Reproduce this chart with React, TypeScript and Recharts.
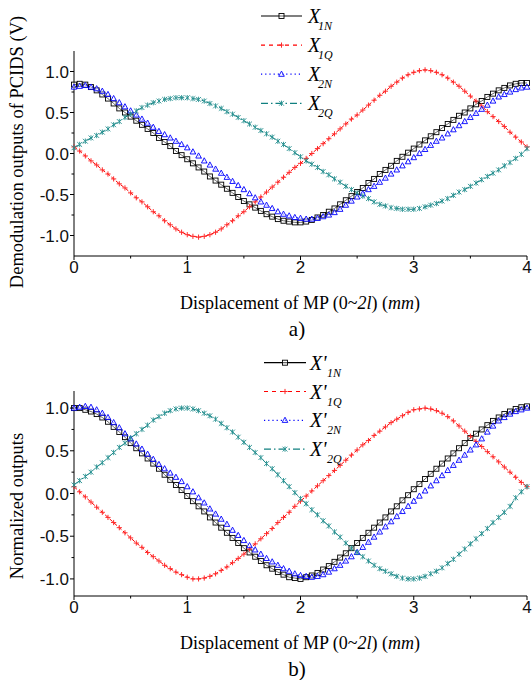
import React from 'react';
import { LineChart, Line, XAxis, YAxis, Legend, Label } from 'recharts';

// x positions (mm), one sample every 0.05
const XS = [
  0, 0.05, 0.1, 0.15, 0.2, 0.25, 0.3, 0.35, 0.4, 0.45, 0.5, 0.55, 0.6, 0.65, 0.7, 0.75, 0.8, 0.85, 0.9, 0.95,
  1, 1.05, 1.1, 1.15, 1.2, 1.25, 1.3, 1.35, 1.4, 1.45, 1.5, 1.55, 1.6, 1.65, 1.7, 1.75, 1.8, 1.85, 1.9, 1.95,
  2, 2.05, 2.1, 2.15, 2.2, 2.25, 2.3, 2.35, 2.4, 2.45, 2.5, 2.55, 2.6, 2.65, 2.7, 2.75, 2.8, 2.85, 2.9, 2.95,
  3, 3.05, 3.1, 3.15, 3.2, 3.25, 3.3, 3.35, 3.4, 3.45, 3.5, 3.55, 3.6, 3.65, 3.7, 3.75, 3.8, 3.85, 3.9, 3.95,
  4,
];

// a) demodulation outputs (V)
const A_X1N = [
  0.84, 0.85, 0.84, 0.81, 0.77, 0.72, 0.67, 0.61, 0.55, 0.5, 0.45, 0.4, 0.35, 0.3, 0.25, 0.19, 0.14, 0.09, 0.03, -0.02,
  -0.07, -0.12, -0.17, -0.22, -0.28, -0.33, -0.38, -0.43, -0.48, -0.53, -0.58, -0.62, -0.66, -0.7, -0.74, -0.77, -0.8, -0.82, -0.83, -0.84,
  -0.84, -0.83, -0.81, -0.78, -0.75, -0.71, -0.67, -0.62, -0.57, -0.52, -0.47, -0.42, -0.36, -0.31, -0.25, -0.2, -0.15, -0.09, -0.04, 0.01,
  0.06, 0.11, 0.16, 0.21, 0.26, 0.31, 0.36, 0.41, 0.46, 0.5, 0.55, 0.6, 0.64, 0.69, 0.73, 0.77, 0.8, 0.83, 0.85, 0.86,
  0.86,
];
const A_X1Q = [
  0.08, 0.03, -0.03, -0.09, -0.14, -0.2, -0.25, -0.31, -0.37, -0.42, -0.48, -0.54, -0.59, -0.65, -0.71, -0.76, -0.82, -0.87, -0.92, -0.96,
  -0.99, -1.01, -1.02, -1.01, -0.99, -0.96, -0.92, -0.87, -0.82, -0.76, -0.71, -0.65, -0.59, -0.53, -0.47, -0.41, -0.35, -0.29, -0.23, -0.17,
  -0.12, -0.06, 0.0, 0.06, 0.12, 0.18, 0.24, 0.3, 0.36, 0.42, 0.47, 0.53, 0.59, 0.65, 0.71, 0.76, 0.82, 0.87, 0.92, 0.96,
  0.99, 1.01, 1.02, 1.01, 0.99, 0.96, 0.92, 0.87, 0.82, 0.76, 0.7, 0.64, 0.58, 0.51, 0.45, 0.39, 0.33, 0.26, 0.2, 0.14,
  0.08,
];
const A_X2N = [
  0.81, 0.82, 0.83, 0.81, 0.79, 0.76, 0.72, 0.67, 0.62, 0.57, 0.52, 0.47, 0.42, 0.37, 0.32, 0.27, 0.23, 0.19, 0.15, 0.11,
  0.07, 0.02, -0.03, -0.09, -0.14, -0.19, -0.24, -0.29, -0.34, -0.39, -0.44, -0.49, -0.54, -0.59, -0.63, -0.67, -0.71, -0.74, -0.76, -0.78,
  -0.79, -0.8, -0.8, -0.79, -0.77, -0.75, -0.72, -0.68, -0.63, -0.58, -0.53, -0.49, -0.44, -0.4, -0.35, -0.3, -0.25, -0.2, -0.15, -0.1,
  -0.05, 0.0, 0.05, 0.1, 0.15, 0.19, 0.24, 0.29, 0.34, 0.39, 0.44, 0.49, 0.54, 0.59, 0.64, 0.69, 0.72, 0.75, 0.78, 0.8,
  0.81,
];
const A_X2Q = [
  0.07, 0.11, 0.15, 0.19, 0.22, 0.26, 0.3, 0.35, 0.39, 0.44, 0.48, 0.52, 0.56, 0.59, 0.62, 0.64, 0.66, 0.67, 0.68, 0.68,
  0.68, 0.67, 0.66, 0.64, 0.61, 0.58, 0.55, 0.51, 0.48, 0.44, 0.4, 0.36, 0.32, 0.28, 0.24, 0.2, 0.15, 0.11, 0.06, 0.01,
  -0.04, -0.09, -0.13, -0.17, -0.22, -0.26, -0.31, -0.35, -0.4, -0.44, -0.48, -0.52, -0.55, -0.59, -0.62, -0.64, -0.66, -0.67, -0.68, -0.68,
  -0.68, -0.67, -0.65, -0.63, -0.61, -0.58, -0.55, -0.51, -0.47, -0.44, -0.4, -0.36, -0.32, -0.28, -0.24, -0.2, -0.15, -0.11, -0.06, -0.01,
  0.06,
];

// b) normalized outputs
const B_X1N = [
  1.0, 1.0, 0.98, 0.96, 0.93, 0.89, 0.84, 0.78, 0.72, 0.66, 0.59, 0.53, 0.47, 0.41, 0.35, 0.29, 0.22, 0.16, 0.1, 0.04,
  -0.03, -0.09, -0.15, -0.21, -0.28, -0.34, -0.4, -0.46, -0.52, -0.58, -0.64, -0.69, -0.74, -0.79, -0.84, -0.88, -0.92, -0.95, -0.98, -0.99,
  -1.0, -0.98, -0.96, -0.93, -0.89, -0.85, -0.8, -0.75, -0.7, -0.64, -0.58, -0.52, -0.46, -0.4, -0.34, -0.28, -0.21, -0.15, -0.08, -0.02,
  0.05, 0.11, 0.17, 0.23, 0.29, 0.35, 0.41, 0.47, 0.53, 0.59, 0.65, 0.7, 0.75, 0.8, 0.85, 0.89, 0.93, 0.96, 0.99, 1.01,
  1.02,
];
const B_X1Q = [
  0.08, 0.02, -0.04, -0.1, -0.16, -0.22, -0.28, -0.34, -0.4, -0.46, -0.52, -0.58, -0.63, -0.69, -0.74, -0.79, -0.84, -0.88, -0.92, -0.95,
  -0.98, -1.0, -1.0, -0.99, -0.97, -0.94, -0.9, -0.86, -0.81, -0.76, -0.71, -0.65, -0.59, -0.53, -0.47, -0.41, -0.34, -0.28, -0.22, -0.15,
  -0.09, -0.03, 0.03, 0.09, 0.15, 0.21, 0.27, 0.33, 0.39, 0.45, 0.51, 0.57, 0.62, 0.68, 0.73, 0.78, 0.83, 0.87, 0.91, 0.95,
  0.98, 0.99, 1.0, 0.99, 0.97, 0.94, 0.9, 0.85, 0.79, 0.73, 0.67, 0.61, 0.55, 0.49, 0.43, 0.37, 0.31, 0.25, 0.19, 0.13,
  0.08,
];
const B_X2N = [
  1.0, 1.01, 1.02, 1.01, 0.98, 0.94, 0.89, 0.83, 0.77, 0.7, 0.64, 0.58, 0.52, 0.46, 0.4, 0.34, 0.29, 0.24, 0.19, 0.14,
  0.08, 0.02, -0.05, -0.11, -0.18, -0.24, -0.3, -0.36, -0.43, -0.49, -0.55, -0.61, -0.66, -0.71, -0.76, -0.8, -0.84, -0.88, -0.91, -0.94,
  -0.96, -0.97, -0.98, -0.97, -0.95, -0.92, -0.88, -0.84, -0.79, -0.74, -0.69, -0.63, -0.57, -0.51, -0.45, -0.39, -0.33, -0.27, -0.21, -0.15,
  -0.09, -0.03, 0.03, 0.09, 0.15, 0.21, 0.27, 0.33, 0.39, 0.45, 0.51, 0.57, 0.64, 0.72, 0.79, 0.85, 0.89, 0.93, 0.96, 0.98,
  1.0,
];
const B_X2Q = [
  0.1, 0.15, 0.2, 0.25, 0.31, 0.36, 0.42, 0.48, 0.54, 0.59, 0.65, 0.7, 0.75, 0.8, 0.86, 0.9, 0.94, 0.97, 0.99, 1.0,
  1.0, 0.99, 0.97, 0.94, 0.91, 0.87, 0.82, 0.77, 0.72, 0.66, 0.6, 0.54, 0.48, 0.42, 0.35, 0.29, 0.22, 0.15, 0.08, 0.01,
  -0.06, -0.12, -0.19, -0.25, -0.32, -0.38, -0.45, -0.51, -0.58, -0.64, -0.69, -0.74, -0.79, -0.84, -0.88, -0.91, -0.94, -0.97, -0.99, -1.0,
  -1.0, -0.99, -0.97, -0.94, -0.91, -0.87, -0.82, -0.77, -0.71, -0.65, -0.59, -0.53, -0.47, -0.41, -0.34, -0.28, -0.22, -0.15, -0.05, 0.02,
  0.08,
];

const X_TICKS = [0, 0.5, 1, 1.5, 2, 2.5, 3, 3.5, 4];
const Y_TICKS = [-1, -0.75, -0.5, -0.25, 0, 0.25, 0.5, 0.75, 1];

const SANS = '"Liberation Sans", Arial, sans-serif';
const SERIF = '"Liberation Serif", "Times New Roman", serif';

const BLACK = '#000000';
const RED = '#ff0000';
const BLUE = '#0000ff';
const TEAL = '#108080';

const SquareDot = (p: any) => (
  <rect key={`sq${p.index}`} x={p.cx - 2.5} y={p.cy - 2.5} width={5} height={5}
    fill="#ffffff" fillOpacity={0.4} stroke={BLACK} strokeWidth={0.9} />
);
const PlusDot = (p: any) => (
  <path key={`pl${p.index}`} d={`M${p.cx - 2.6},${p.cy}H${p.cx + 2.6}M${p.cx},${p.cy - 2.6}V${p.cy + 2.6}`}
    stroke="#ff2a2a" strokeWidth={1} fill="none" />
);
const TriDot = (p: any) => (
  <path key={`tr${p.index}`} d={`M${p.cx},${p.cy - 3.1}L${p.cx + 2.8},${p.cy + 2.1}L${p.cx - 2.8},${p.cy + 2.1}Z`}
    stroke={BLUE} strokeWidth={0.9} fill="#ffffff" fillOpacity={0.4} />
);
const StarDot = (p: any) => (
  <path key={`st${p.index}`}
    d={`M${p.cx - 2.4},${p.cy - 2.4}L${p.cx + 2.4},${p.cy + 2.4}M${p.cx - 2.4},${p.cy + 2.4}L${p.cx + 2.4},${p.cy - 2.4}M${p.cx},${p.cy - 2.7}V${p.cy + 2.7}`}
    stroke="#248f8f" strokeWidth={0.9} fill="none" />
);

const XTick = (props: any) => {
  const { x, y, payload } = props;
  const major = Number.isInteger(payload.value);
  return (
    <g>
      <line x1={x} x2={x} y1={y} y2={y + (major ? 4 : 2.5)} stroke={BLACK} strokeWidth={1} />
      {major && (
        <text x={x} y={y + 17} textAnchor="middle" fontSize={17} fontFamily={SANS} fill="#111">
          {payload.value}
        </text>
      )}
    </g>
  );
};

const YTick = (props: any) => {
  const { x, y, payload } = props;
  const v = payload.value;
  const major = Math.abs(v * 2 - Math.round(v * 2)) < 1e-6;
  return (
    <g>
      <line x1={x} x2={x - (major ? 4 : 2.5)} y1={y} y2={y} stroke={BLACK} strokeWidth={1} />
      {major && (
        <text x={x - 5} y={y} dy="0.36em" textAnchor="end" fontSize={17} fontFamily={SANS} fill="#111">
          {v.toFixed(1)}
        </text>
      )}
    </g>
  );
};

type Item = { main: string; sub: string; color: string; dash?: string; marker: string };

const LegendMarker = ({ kind, cx, cy }: { kind: string; cx: number; cy: number }) => {
  if (kind === 'square') return <SquareDot cx={cx} cy={cy} index={0} />;
  if (kind === 'plus') return <PlusDot cx={cx} cy={cy} index={0} />;
  if (kind === 'tri') return <TriDot cx={cx} cy={cy} index={0} />;
  return <StarDot cx={cx} cy={cy} index={0} />;
};

const LegendBox = ({ items, top, gap, x1, x2, tx, sx }: {
  items: Item[]; top: number; gap: number; x1: number; x2: number; tx: number; sx: number;
}) => (
  <svg width={140} height={130} style={{ display: 'block', overflow: 'visible' }}>
    {items.map((it, i) => {
      const y = top + i * gap;
      return (
        <g key={it.sub}>
          <line x1={x1} x2={x2} y1={y} y2={y} stroke={it.color} strokeWidth={1.2} strokeDasharray={it.dash} />
          <LegendMarker kind={it.marker} cx={(x1 + x2) / 2} cy={y} />
          <text x={tx} y={y + 7} fontSize={20} fontStyle="italic" fontFamily={SERIF} fill="#000">{it.main}</text>
          <text x={sx} y={y + 14} fontSize={12} fontStyle="italic" fontFamily={SERIF} fill="#000">{it.sub}</text>
        </g>
      );
    })}
  </svg>
);

const ITEMS_A: Item[] = [
  { main: 'X', sub: '1N', color: BLACK, marker: 'square' },
  { main: 'X', sub: '1Q', color: RED, dash: '4 4', marker: 'plus' },
  { main: 'X', sub: '2N', color: BLUE, dash: '1.2 3', marker: 'tri' },
  { main: 'X', sub: '2Q', color: TEAL, dash: '7 3 1.5 3', marker: 'star' },
];
const ITEMS_B: Item[] = ITEMS_A.map((it) => ({ ...it, main: "X'" }));

const rowsA = XS.map((x, i) => ({ x, n1: A_X1N[i], q1: A_X1Q[i], n2: A_X2N[i], q2: A_X2Q[i] }));
const rowsB = XS.map((x, i) => ({ x, n1: B_X1N[i], q1: B_X1Q[i], n2: B_X2N[i], q2: B_X2Q[i] }));

const Panel = ({ rows, yDomain, yTitle, yTitleY, tag, legend }: {
  rows: any[]; yDomain: number[]; yTitle: string; yTitleY: number; tag: string; legend: React.ReactNode;
}) => (
  <LineChart width={532} height={340} data={rows} margin={{ top: 51, right: 5, left: 0, bottom: 0 }}>
    <XAxis dataKey="x" type="number" domain={[0, 4]} ticks={X_TICKS} interval={0}
      tickSize={0} tickMargin={0} tick={<XTick />} tickLine={false} height={84}
      axisLine={{ stroke: BLACK, strokeWidth: 1 }}>
      <Label content={() => (
        <g>
          <text x={300} y={309} textAnchor="middle" fontSize={18} fontFamily={SERIF} fill="#000">
            Displacement of MP (0~<tspan fontStyle="italic">2l</tspan>) (<tspan fontStyle="italic">mm</tspan>)
          </text>
          <text x={297} y={336} textAnchor="middle" fontSize={21} fontFamily={SERIF} fill="#000">{tag}</text>
        </g>
      )} />
    </XAxis>
    <YAxis type="number" domain={yDomain} ticks={Y_TICKS} interval={0} width={74}
      tickSize={0} tickMargin={0} tick={<YTick />} tickLine={false}
      axisLine={{ stroke: BLACK, strokeWidth: 1 }}>
      <Label content={() => (
        <text x={23} y={yTitleY} transform={`rotate(-90 23 ${yTitleY})`} textAnchor="middle"
          fontSize={18.5} fontFamily={SERIF} fill="#000">{yTitle}</text>
      )} />
    </YAxis>
    <Legend layout="vertical" align="center" verticalAlign="middle"
      wrapperStyle={{ top: 0, left: 250, width: 140, height: 130 }}
      content={() => legend} />
    <Line dataKey="n1" stroke={BLACK} strokeWidth={1} dot={SquareDot} isAnimationActive={false} />
    <Line dataKey="q1" stroke={RED} strokeWidth={1} strokeDasharray="4 2" dot={PlusDot} isAnimationActive={false} />
    <Line dataKey="n2" stroke={BLUE} strokeWidth={1} strokeDasharray="1.2 2.5" dot={TriDot} isAnimationActive={false} />
    <Line dataKey="q2" stroke={TEAL} strokeWidth={1} strokeDasharray="7 3 1.5 3" dot={StarDot} isAnimationActive={false} />
  </LineChart>
);

export default function App() {
  return (
    <div style={{ position: 'absolute', left: 0, top: 0, width: 532, height: 680, background: '#fff' }}>
      <Panel rows={rowsA} yDomain={[-1.25, 1.25]} yTitle="Demodulation outputs of PCIDS (V)" yTitleY={152} tag="a)"
        legend={<LegendBox items={ITEMS_A} top={16} gap={29.1} x1={11} x2={52} tx={58} sx={68} />} />
      <Panel rows={rowsB} yDomain={[-1.2, 1.2]} yTitle="Normalized outputs" yTitleY={166} tag="b)"
        legend={<LegendBox items={ITEMS_B} top={22.7} gap={28.8} x1={14} x2={56} tx={60} sx={77} />} />
    </div>
  );
}
